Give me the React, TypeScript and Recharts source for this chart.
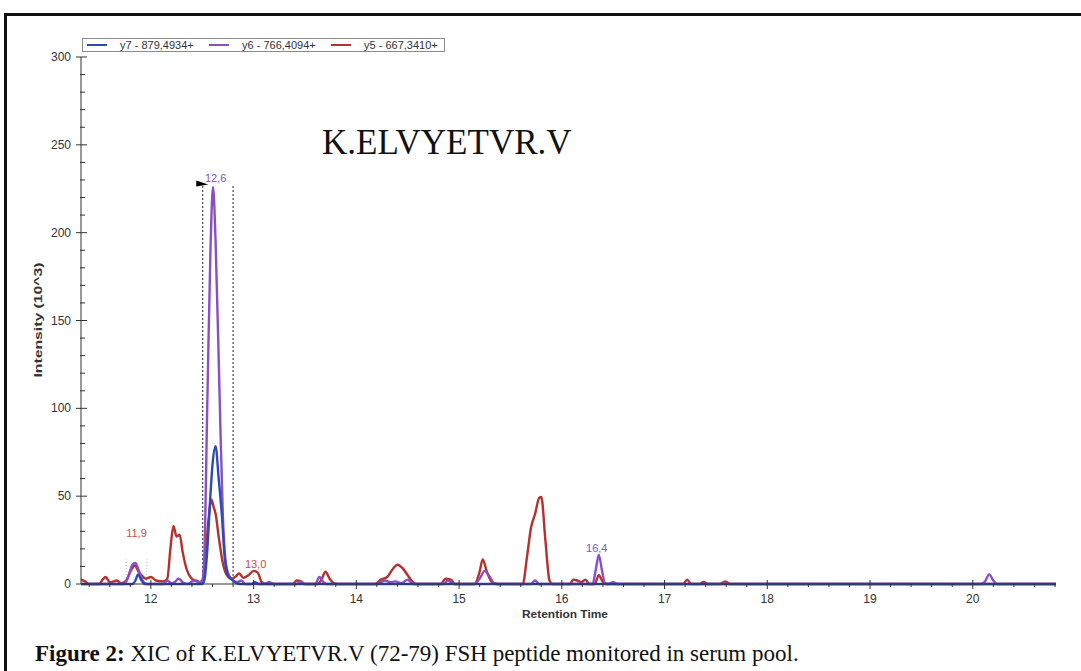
import {
  LineChart,
  Line,
  XAxis,
  YAxis,
  Legend,
  ReferenceLine,
  ReferenceDot,
  Label,
} from "recharts";

// retention time (min) / intensity (10^3), per transition
const Y7_TIME = [11.32, 11.82, 11.85, 11.875, 11.9, 11.94, 12.5, 12.52, 12.55, 12.575, 12.6, 12.63, 12.66, 12.69, 12.72, 12.75, 12.78, 12.82, 12.86, 12.98, 13.01, 13.05, 20.81];
const Y7_INT = [0, 0, 2, 5.5, 3, 0, 0, 2, 20, 46, 68, 78.5, 60, 40, 14, 5, 3, 1, 0, 0, 1, 0, 0];

const Y6_TIME = [11.32, 11.74, 11.78, 11.82, 11.85, 11.88, 11.92, 11.96, 12.12, 12.16, 12.2, 12.23, 12.27, 12.31, 12.36, 12.4, 12.44, 12.48, 12.5, 12.52, 12.55, 12.58, 12.605, 12.63, 12.67, 12.7, 12.73, 12.76, 12.8, 12.84, 12.88, 12.92, 13.1, 13.15, 13.2, 13.42, 13.46, 13.5, 13.6, 13.64, 13.68, 13.71, 14.2, 14.28, 14.33, 14.38, 14.44, 14.5, 14.55, 14.85, 14.89, 14.93, 14.96, 15.15, 15.2, 15.25, 15.3, 15.34, 15.38, 15.7, 15.74, 15.78, 16.3, 16.33, 16.36, 16.39, 16.42, 16.45, 16.5, 16.54, 20.08, 20.12, 20.16, 20.2, 20.24, 20.81];
const Y6_INT = [0, 0, 4, 11, 12, 8, 2, 0, 0, 2, 0.5, 1, 3, 1, 0, 1.5, 2, 1, 1, 15, 105, 190, 226, 195, 105, 40, 12, 5, 2, 1, 2, 0, 0, 1, 0, 0, 1.5, 0, 0, 4, 1, 0, 0, 2, 1, 1.5, 0.5, 2.5, 0, 0, 2, 0.5, 0, 0, 3, 7.5, 4, 0.5, 0, 0, 2, 0, 0, 8, 16.5, 8, 0.5, 0, 1, 0, 0, 1.5, 5.5, 2, 0, 0];

const Y5_TIME = [11.32, 11.36, 11.4, 11.5, 11.53, 11.56, 11.6, 11.64, 11.67, 11.71, 11.76, 11.8, 11.845, 11.88, 11.91, 11.95, 12.0, 12.05, 12.12, 12.16, 12.19, 12.22, 12.25, 12.28, 12.31, 12.35, 12.39, 12.43, 12.47, 12.5, 12.53, 12.56, 12.59, 12.61, 12.63, 12.66, 12.7, 12.74, 12.78, 12.82, 12.86, 12.9, 12.95, 13.0, 13.04, 13.08, 13.12, 13.38, 13.42, 13.46, 13.49, 13.62, 13.66, 13.7, 13.74, 13.78, 13.82, 14.18, 14.24, 14.3, 14.36, 14.4, 14.45, 14.5, 14.55, 14.58, 14.82, 14.87, 14.92, 14.96, 15.15, 15.2, 15.23, 15.27, 15.32, 15.35, 15.62, 15.66, 15.7, 15.74, 15.78, 15.8, 15.84, 15.88, 15.91, 16.08, 16.11, 16.15, 16.19, 16.23, 16.27, 16.32, 16.36, 16.4, 16.43, 17.18, 17.22, 17.26, 17.34, 17.38, 17.42, 17.54, 17.59, 17.64, 20.81];
const Y5_INT = [2.5, 1.5, 0, 0, 2.5, 4, 1, 1.5, 2, 0.5, 2, 7, 10.5, 7, 5, 3, 4, 2, 1.5, 3, 20, 33, 27, 28, 18, 8, 3.5, 2, 1, 2, 15, 36, 48, 44, 40, 27, 12, 5, 3, 4, 6, 3.5, 5, 7.5, 6.5, 1, 0, 0, 2, 1.5, 0, 0, 2.5, 7, 3, 0.5, 0, 0, 2.5, 4, 9, 11, 9, 5, 1, 0, 0, 3, 2.5, 0, 0, 7, 14, 7, 1, 0, 0, 15, 32, 40, 49, 49.5, 25, 2, 0, 0, 2.5, 2, 1, 2.5, 0, 0, 5, 1, 0, 0, 2.5, 0, 0, 1.2, 0, 0, 1.5, 0, 0];

const X_MAJOR = [12, 13, 14, 15, 16, 17, 18, 19, 20];
const X_MINOR_STEP = 0.2;
const Y_MAJOR = [0, 50, 100, 150, 200, 250, 300];
const Y_MINOR_STEP = 10;

const SERIES = [
  { key: "y5", name: "y5 - 667,3410+", color: "#b5302f", time: Y5_TIME, values: Y5_INT },
  { key: "y6", name: "y6 - 766,4094+", color: "#8a4fc2", time: Y6_TIME, values: Y6_INT },
  { key: "y7", name: "y7 - 879,4934+", color: "#2d4bb3", time: Y7_TIME, values: Y7_INT },
];
const LEGEND_ORDER = ["y7", "y6", "y5"];

// peak annotations [time, label height, text, colour]
const PEAK_LABELS: [number, number, string, string][] = [
  [11.86, 29, "11,9", "#c0504d"],
  [12.63, 231, "12,6", "#8a4fc2"],
  [13.02, 11.5, "13,0", "#c0504d"],
  [16.34, 20.5, "16,4", "#8a4fc2"],
];

const X_DOMAIN: [number, number] = [11.32, 20.81];
const xTicks = Array.from({ length: 48 }, (_, i) => Math.round((11.4 + i * X_MINOR_STEP) * 10) / 10);
const yTicks = Array.from({ length: 31 }, (_, i) => i * Y_MINOR_STEP);

const FONT = "'Liberation Sans', Arial, sans-serif";
const SERIF = "'Liberation Serif', 'Times New Roman', serif";

function XTick(props: any) {
  const { x, y, payload } = props;
  const major = X_MAJOR.includes(payload.value);
  return (
    <g>
      <line x1={x} x2={x} y1={major ? y - 4 : y} y2={major ? y + 5 : y + 3} stroke="#333" strokeWidth={1} />
      {major && (
        <text x={x} y={y + 19} textAnchor="middle" fontSize={12} fill="#333" fontFamily={FONT}>
          {payload.value}
        </text>
      )}
    </g>
  );
}

function YTick(props: any) {
  const { x, y, payload } = props;
  const major = Y_MAJOR.includes(payload.value);
  return (
    <g>
      <line x1={major ? x - 5 : x - 1} x2={major ? x + 6 : x + 4} y1={y} y2={y} stroke="#333" strokeWidth={1} />
      {major && (
        <text x={x - 10} y={y + 4} textAnchor="end" fontSize={12} fill="#333" fontFamily={FONT}>
          {payload.value}
        </text>
      )}
    </g>
  );
}

function LegendBox() {
  return (
    <div
      style={{
        display: "flex",
        alignItems: "center",
        border: "1px solid #8a8a8a",
        height: 12,
        width: 357,
        boxSizing: "content-box",
        padding: "0 0 0 4px",
        fontFamily: FONT,
        fontSize: 11,
        color: "#333",
        background: "#fff",
        whiteSpace: "nowrap",
      }}
    >
      {LEGEND_ORDER.map((k, i) => {
        const s = SERIES.find((d) => d.key === k)!;
        return (
          <span key={k} style={{ display: "flex", alignItems: "center", marginLeft: i === 0 ? 0 : 9 }}>
            <span style={{ display: "inline-block", width: 20, height: 1.5, background: s.color, marginRight: 13 }} />
            <span style={{ display: "inline-block", width: 80, lineHeight: "12px" }}>{s.name}</span>
          </span>
        );
      })}
    </div>
  );
}

function Flag(props: any) {
  const { cx, cy } = props;
  return <polygon points={`${cx - 6},${cy - 3} ${cx - 6},${cy + 3} ${cx + 6},${cy + 1}`} fill="#000" />;
}

export default function App() {
  return (
    <div style={{ position: "absolute", left: 0, top: 0, width: 1081, height: 671, background: "#fff", overflow: "hidden" }}>
      {/* figure frame */}
      <div style={{ position: "absolute", left: 4, top: 13, width: 1090, height: 700, borderTop: "3px solid #111", borderLeft: "3px solid #111" }} />

      <div style={{ position: "absolute", left: 0, top: 0 }}>
        <LineChart width={1081} height={671} margin={{ top: 57, right: 25, bottom: 57, left: 41 }}>
          <XAxis
            type="number"
            dataKey="t"
            domain={X_DOMAIN}
            allowDataOverflow
            ticks={xTicks}
            interval={0}
            tickSize={0}
            tickMargin={0}
            tickLine={false}
            tick={<XTick />}
            height={30}
            stroke="#333"
          >
            <Label
              content={() => (
                <text x={565} y={618} textAnchor="middle" fontSize={11} fontWeight="bold" fill="#333" fontFamily={FONT} textLength={86} lengthAdjust="spacingAndGlyphs">
                  Retention Time
                </text>
              )}
            />
          </XAxis>
          <YAxis
            type="number"
            domain={[0, 300]}
            ticks={yTicks}
            interval={0}
            tickSize={0}
            tickMargin={0}
            tickLine={false}
            tick={<YTick />}
            width={40}
            stroke="#333"
          >
            <Label
              content={() => (
                <text x={42} y={320} transform="rotate(-90 42 320)" textAnchor="middle" fontSize={11} fontWeight="bold" fill="#333" fontFamily={FONT} textLength={115} lengthAdjust="spacingAndGlyphs">
                  Intensity (10^3)
                </text>
              )}
            />
          </YAxis>
          <Legend
            verticalAlign="middle"
            align="center"
            layout="horizontal"
            wrapperStyle={{ top: 38, left: 82, width: "auto" }}
            content={() => <LegendBox />}
          />

          <ReferenceLine segment={[{ x: 12.505, y: 0 }, { x: 12.505, y: 227 }]} stroke="#222" strokeDasharray="2 2" strokeWidth={1} />
          <ReferenceLine segment={[{ x: 12.8, y: 0 }, { x: 12.8, y: 227 }]} stroke="#222" strokeDasharray="2 2" strokeWidth={1} />
          <ReferenceLine segment={[{ x: 11.76, y: 0 }, { x: 11.76, y: 14 }]} stroke="#bbb" strokeDasharray="1 2" />
          <ReferenceLine segment={[{ x: 11.96, y: 0 }, { x: 11.96, y: 14 }]} stroke="#bbb" strokeDasharray="1 2" />
          <ReferenceLine segment={[{ x: 13.0, y: 0 }, { x: 13.0, y: 8 }]} stroke="#bbb" strokeDasharray="1 2" />
          <ReferenceDot x={12.5} y={228} r={0} shape={<Flag />} />

          {SERIES.map((s) => (
            <Line
              key={s.key}
              data={s.time.map((t, i) => ({ t, v: s.values[i] }))}
              dataKey="v"
              name={s.name}
              type="monotone"
              stroke={s.color}
              strokeWidth={2.4}
              dot={false}
              activeDot={false}
              isAnimationActive={false}
            />
          ))}

          {PEAK_LABELS.map(([t, v, txt, c]) => (
            <ReferenceDot
              key={txt}
              x={t}
              y={v}
              r={0}
              stroke="none"
              label={{ value: txt, position: "center", fill: c, fontSize: 11, fontFamily: FONT }}
            />
          ))}
        </LineChart>
      </div>

      <div style={{ position: "absolute", left: 322, top: 121, fontFamily: SERIF, fontSize: 35, color: "#111", lineHeight: "44px", whiteSpace: "nowrap" }}>
        K.ELVYETVR.V
      </div>

      <div style={{ position: "absolute", left: 35, top: 640, fontFamily: SERIF, fontSize: 23, color: "#111", lineHeight: "28px", whiteSpace: "nowrap" }}>
        <b>Figure 2:</b> XIC of K.ELVYETVR.V (72-79) FSH peptide monitored in serum pool.
      </div>
    </div>
  );
}
